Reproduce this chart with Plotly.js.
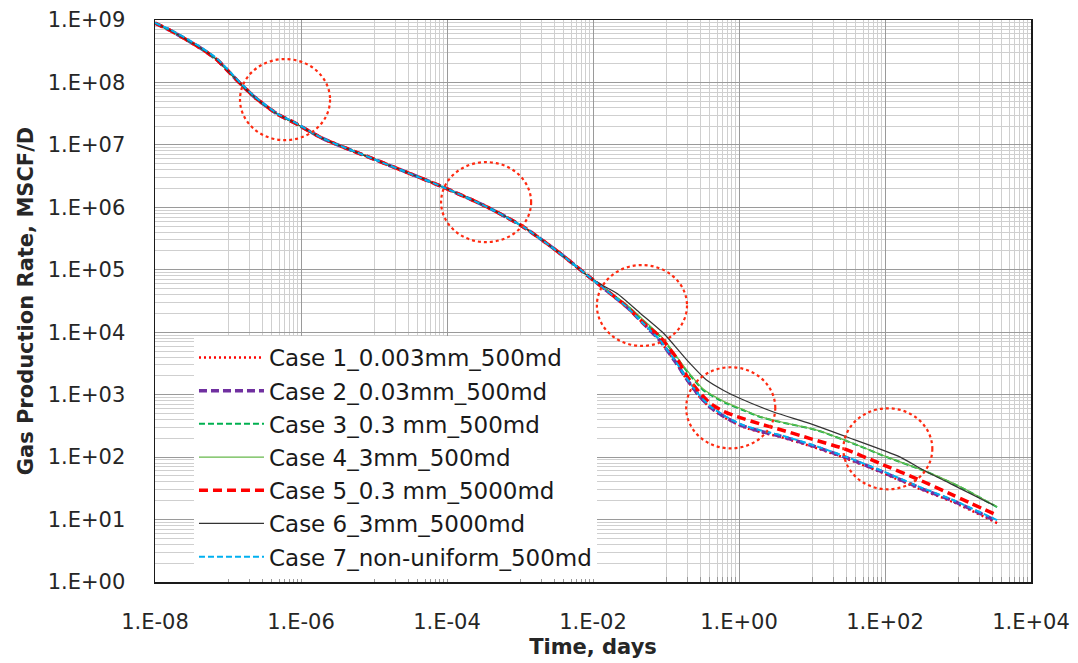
<!DOCTYPE html>
<html>
<head>
<meta charset="utf-8">
<script src="https://cdn.plot.ly/plotly-3.0.1.min.js"></script>
<style>
  html, body { margin: 0; padding: 0; background: #ffffff; }
  #chart { width: 1078px; height: 663px; }
</style>
</head>
<body>
<div id="chart"></div>
<script>
// Gas production rate (MSCF/D) versus time (days), seven fracture cases.

const caseNames = [
  'Case 1_0.003mm_500md',
  'Case 2_0.03mm_500md',
  'Case 3_0.3 mm_500md',
  'Case 4_3mm_500md',
  'Case 5_0.3 mm_5000md',
  'Case 6_3mm_5000md',
  'Case 7_non-uniform_500md'
];

// Early-time decline shared by all cases (days, MSCF/D)
const earlyDays = [1e-8, 1.58e-8, 2.5e-8, 4.2e-8, 7.1e-8, 1.07e-7, 1.6e-7, 2.34e-7, 3.4e-7, 5.0e-7, 7.9e-7, 2.0e-6, 1.0e-5, 8.9e-5, 3.5e-4, 1.1e-3, 3.2e-3, 1.0e-2];
const earlyRate = [8.9e8, 6.9e8, 5.1e8, 3.55e8, 2.3e8, 1.41e8, 8.7e7, 5.75e7, 4.1e7, 3.0e7, 2.3e7, 1.26e7, 5.9e6, 2.1e6, 1.02e6, 4.9e5, 2.0e5, 6.9e4];
const case7EarlyRate = [9.0e8, 7.1e8, 5.3e8, 3.7e8, 2.4e8, 1.47e8, 9.0e7, 5.9e7, 4.2e7, 3.05e7, 2.35e7, 1.27e7, 5.9e6, 2.1e6, 1.02e6, 4.9e5, 2.0e5, 6.9e4];

// Late-time behaviour per case
const narrowDays = [0.029, 0.049, 0.083, 0.141, 0.195, 0.282, 0.407, 0.617, 0.851, 1.15, 1.95, 3.72, 10.5, 30.2, 87, 302, 871, 3430];
const case1Rate = [2.54e4, 1.37e4, 7.2e3, 3.05e3, 1.7e3, 950, 610, 440, 357, 304, 252, 210, 145, 94, 57.5, 30.8, 18.9, 8.8];
const case2Rate = [2.54e4, 1.38e4, 7.3e3, 3.1e3, 1.74e3, 975, 625, 452, 367, 313, 260, 216, 150, 97, 59.5, 32, 19.7, 9.4];
const case7Rate = [2.54e4, 1.38e4, 7.4e3, 3.16e3, 1.78e3, 1.0e3, 646, 468, 380, 324, 269, 224, 155, 100, 61.7, 33.1, 20.4, 9.8];

const case3Days = [0.029, 0.049, 0.093, 0.174, 0.324, 0.646, 1.15, 1.95, 3.67, 11.7, 37.2, 106, 377, 1076, 3430];
const case3Rate = [2.69e4, 1.51e4, 7.45e3, 2.78e3, 1.18e3, 741, 562, 440, 365, 269, 164, 100, 57.7, 33.2, 15.8];
const case4Rate = [2.75e4, 1.58e4, 7.76e3, 2.88e3, 1.23e3, 759, 575, 445, 368, 271, 165, 101, 58, 33.5, 16];

const case5Days = [0.029, 0.049, 0.083, 0.141, 0.195, 0.282, 0.407, 0.617, 0.933, 1.95, 3.31, 9.46, 27.1, 86.3, 305, 871, 3430];
const case5Rate = [2.57e4, 1.41e4, 8.4e3, 3.8e3, 1.95e3, 1.12e3, 720, 537, 447, 339, 286, 198, 137, 78.7, 42.5, 24.4, 11.7];

const case6Days = [0.0214, 0.0447, 0.0933, 0.195, 0.363, 0.617, 1.04, 2.97, 9.46, 30.1, 162, 338, 785, 3076];
const case6Rate = [4.17e4, 2.0e4, 9.55e3, 3.55e3, 1.7e3, 1.17e3, 867, 528, 344, 210, 100, 61.4, 37.6, 16.9];

// Regions circled on the chart (days range, rate range)
const highlightDays = [[1.46e-7, 2.5e-6], [8.3e-5, 1.42e-3], [1.13e-2, 0.194], [0.189, 3.14], [26.9, 445]];
const highlightRate = [[1.19e7, 2.37e8], [2.77e5, 5.3e6], [6.03e3, 1.19e5], [138, 2.75e3], [30.5, 605]];

const xTickVals = [1e-8, 1e-6, 1e-4, 1e-2, 1e0, 1e2, 1e4];
const xTickText = ['1.E-08', '1.E-06', '1.E-04', '1.E-02', '1.E+00', '1.E+02', '1.E+04'];
const yTickVals = [1e0, 1e1, 1e2, 1e3, 1e4, 1e5, 1e6, 1e7, 1e8, 1e9];
const yTickText = ['1.E+00', '1.E+01', '1.E+02', '1.E+03', '1.E+04', '1.E+05', '1.E+06', '1.E+07', '1.E+08', '1.E+09'];

// Minor grid: every 1..9 step inside the odd decades on x, 2..9 inside every decade on y
const xMinor = [];
for (let e = -7; e <= 3; e += 2) for (let k = 1; k <= 9; k++) xMinor.push(k * Math.pow(10, e));
const yMinor = [];
for (let e = 0; e <= 8; e++) for (let k = 2; k <= 9; k++) yMinor.push(k * Math.pow(10, e));

const FONT = 'DejaVu Sans, Arial, sans-serif';

function series(idx, days, rate, line) {
  line.shape = 'spline';
  line.smoothing = 0.6;
  return {
    type: 'scatter', mode: 'lines', name: caseNames[idx],
    x: days, y: rate, line: line, legendgroup: 'g' + idx
  };
}

const traces = [
  series(0, earlyDays.concat(narrowDays), earlyRate.concat(case1Rate), {color: '#ff0000', width: 2.5, dash: '2px,3px'}),
  series(1, earlyDays.concat(narrowDays), earlyRate.concat(case2Rate), {color: '#7030a0', width: 3.5, dash: '8px,4px'}),
  series(2, earlyDays.concat(case3Days), earlyRate.concat(case3Rate), {color: '#00b050', width: 2, dash: '6px,3px'}),
  series(3, earlyDays.concat(case3Days), earlyRate.concat(case4Rate), {color: '#66b84a', width: 1.2}),
  series(4, earlyDays.concat(case5Days), earlyRate.concat(case5Rate), {color: '#ff0000', width: 3.5, dash: '9px,5px'}),
  series(5, earlyDays.concat(case6Days), earlyRate.concat(case6Rate), {color: '#333333', width: 1.2}),
  series(6, earlyDays.concat(narrowDays), case7EarlyRate.concat(case7Rate), {color: '#00b0f0', width: 2, dash: '6px,3px'})
];

const shapes = highlightDays.map((d, i) => ({
  type: 'circle', xref: 'x', yref: 'y', layer: 'above',
  x0: d[0], x1: d[1], y0: highlightRate[i][0], y1: highlightRate[i][1],
  line: {color: '#ff2a10', width: 2.2, dash: 'dot'}
}));

// White backing that extends the legend box to the left
shapes.push({
  type: 'rect', xref: 'paper', yref: 'paper', layer: 'between',
  x0: 0.0194, x1: 0.06, y0: 0.0125, y1: 0.4377,
  fillcolor: '#ffffff', line: {width: 0}
});

const layout = {
  width: 1078, height: 663,
  margin: {l: 155, r: 47, t: 20, b: 81},
  paper_bgcolor: '#ffffff', plot_bgcolor: '#ffffff',
  font: {family: FONT, size: 21, color: '#262626'},
  showlegend: true,
  legend: {
    x: 0.0445, y: 0.4377, xanchor: 'left', yanchor: 'top',
    bgcolor: '#ffffff', borderwidth: 0,
    font: {family: FONT, size: 23, color: '#1a1a1a'},
    itemwidth: 65, tracegroupgap: 0.3, traceorder: 'grouped'
  },
  xaxis: {
    type: 'log', range: [-8, 4],
    tickmode: 'array', tickvals: xTickVals, ticktext: xTickText,
    showgrid: true, gridcolor: '#9a9a9a', gridwidth: 1,
    showline: true, linecolor: '#1a1a1a', linewidth: 1.5, mirror: true,
    ticks: '', ticklabelstandoff: 20,
    tickfont: {family: FONT, size: 21, color: '#262626'},
    minor: {tickmode: 'array', tickvals: xMinor, showgrid: true, gridcolor: '#cfcfcf', gridwidth: 1,
            ticks: 'inside', ticklen: 5, tickcolor: '#9a9a9a'},
    zeroline: false,
    title: {text: '<b>Time, days</b>', font: {family: FONT, size: 21, color: '#262626'}, standoff: 6}
  },
  yaxis: {
    type: 'log', range: [0, 9],
    tickmode: 'array', tickvals: yTickVals, ticktext: yTickText,
    showgrid: true, gridcolor: '#9a9a9a', gridwidth: 1,
    showline: true, linecolor: '#1a1a1a', linewidth: 1.5, mirror: true,
    ticks: '', ticklabelstandoff: 24,
    tickfont: {family: FONT, size: 21, color: '#262626'},
    minor: {tickmode: 'array', tickvals: yMinor, showgrid: true, gridcolor: '#cfcfcf', gridwidth: 1},
    zeroline: false,
    title: {text: '<b>Gas Production Rate, MSCF/D</b>', font: {family: FONT, size: 21, color: '#262626'}, standoff: 8}
  },
  shapes: shapes
};

Plotly.newPlot('chart', traces, layout, {displayModeBar: false, staticPlot: true});
</script>
</body>
</html>
